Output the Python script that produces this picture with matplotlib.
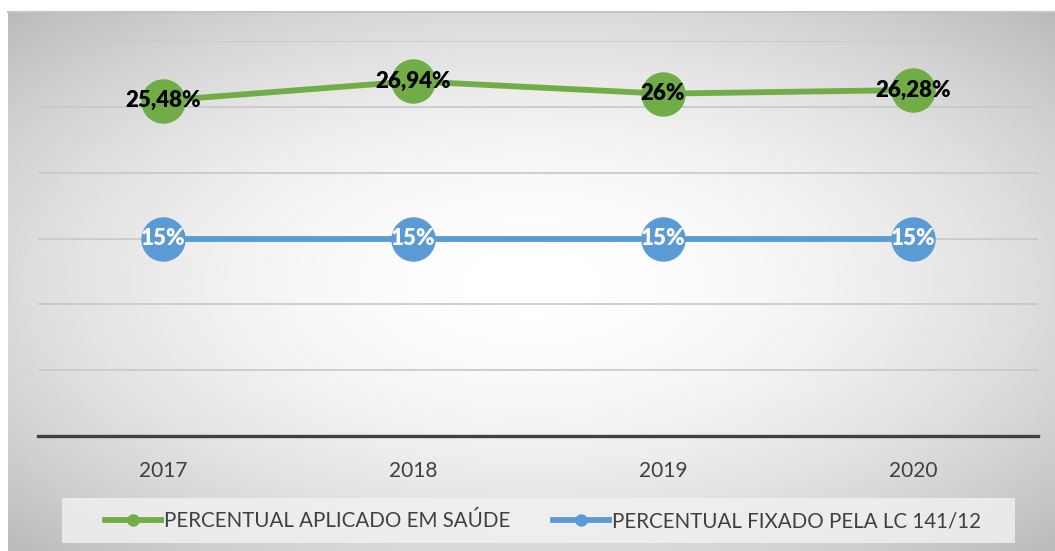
import matplotlib
matplotlib.use('Agg')
import matplotlib.pyplot as plt
from matplotlib.patches import Rectangle
import numpy as np

# data
years = ['2017', '2018', '2019', '2020']
aplicado = [25.48, 26.94, 26.00, 26.28]
fixado = [15, 15, 15, 15]
label_aplicado = 'PERCENTUAL APLICADO EM SAÚDE'
label_fixado = 'PERCENTUAL FIXADO PELA LC 141/12'

green = '#70AD47'
blue = '#5B9BD5'
plt.rcParams['font.family'] = ['Lato', 'DejaVu Sans']

W, H = 1055, 551
fig = plt.figure(figsize=(W / 100, H / 100), dpi=100)

# radial gradient background (white centre, gray borders)
bg = fig.add_axes([8 / W, 0, 1 - 8 / W, 539 / H])
gx, gy = np.meshgrid(np.linspace(-1, 1, 400), np.linspace(-1, 1, 220))
r = np.sqrt(gx ** 2 + gy ** 2) / np.sqrt(2)
shade = 1 - 0.27 * r ** 1.8
bg.imshow(shade, cmap='gray', vmin=0, vmax=1, aspect='auto', extent=[0, 1, 0, 1])
bg.set_xlim(0, 1)
bg.set_ylim(0, 1)
bg.axis('off')
bg.plot([0, 1], [1, 1], color='#c4c4c4', lw=1.5, transform=bg.transAxes, clip_on=False)

# legend box behind the legend entries
fig.patches.append(Rectangle((62 / W, 1 - 543 / H), (1015 - 62) / W, 45 / H,
                             transform=fig.transFigure, facecolor='#f2f2f2',
                             alpha=0.8, edgecolor='none', zorder=1))

ax = fig.add_axes([38 / W, (H - 436) / H, 1000 / W, (436 - 41) / H])
ax.patch.set_visible(False)
x = np.arange(len(years))

ax.plot(x, aplicado, color=green, lw=4.2, marker='o', markersize=31, zorder=3)
ax.plot(x, fixado, color=blue, lw=4.2, marker='o', markersize=31, zorder=3)

for xi, v in zip(x, aplicado):
    txt = f'{v:g}'.replace('.', ',') + '%'
    ax.text(xi, v, txt, ha='center', va='center', fontsize=16, fontweight='heavy',
            color='black', zorder=4)
for xi, v in zip(x, fixado):
    ax.text(xi, v, f'{v:g}%', ha='center', va='center', fontsize=16, fontweight='heavy',
            color='white', zorder=4)

ax.set_xlim(-0.5, 3.5)
ax.set_ylim(0, 30)
ax.set_yticks(np.arange(0, 31, 5))
ax.set_yticklabels([])
ax.set_xticks(x)
ax.set_xticklabels(years, fontsize=15, color='#404040')
ax.tick_params(axis='both', length=0)
ax.tick_params(axis='x', pad=18)
ax.grid(axis='y', color='#c8c8c8', lw=1.2)
ax.set_axisbelow(True)
for s in ['top', 'left', 'right']:
    ax.spines[s].set_visible(False)
ax.spines['bottom'].set_color('#404040')
ax.spines['bottom'].set_linewidth(2.4)

h1 = plt.Line2D([], [], color=green, lw=4.2, marker='o', markersize=8)
h2 = plt.Line2D([], [], color=blue, lw=4.2, marker='o', markersize=8)
leg = fig.legend([h1, h2], [label_aplicado, label_fixado], loc='center',
                 bbox_to_anchor=(543 / W, 1 - 521 / H), ncol=2, fontsize=14.8,
                 frameon=False, handlelength=2.7, handletextpad=0.15,
                 columnspacing=2.1, borderpad=0.3, borderaxespad=0)
for t in leg.get_texts():
    t.set_color('#404040')

fig.savefig('out.png', dpi=100)
plt.close()
